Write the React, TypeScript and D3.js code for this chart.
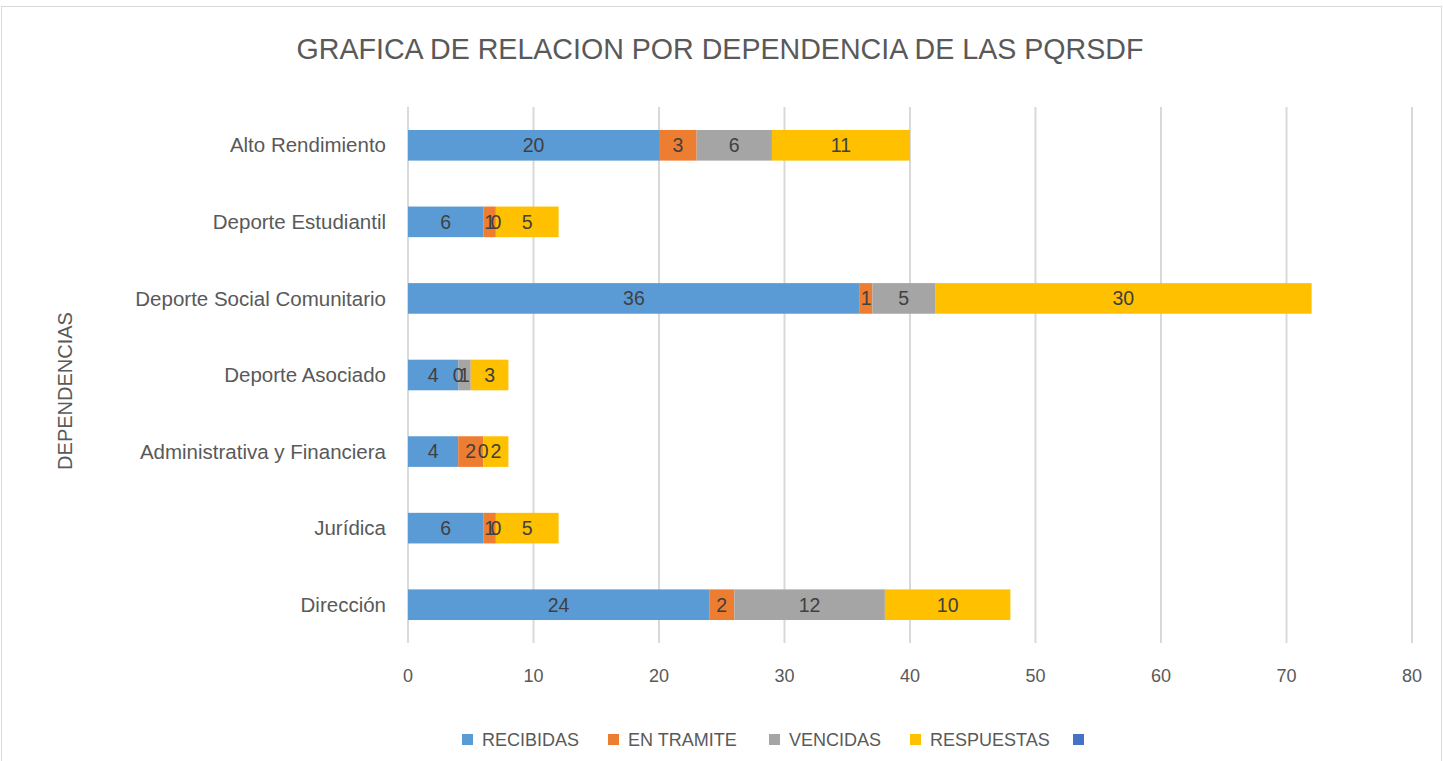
import React from "react";
import * as d3 from "d3";

const categories = [
  "Alto Rendimiento",
  "Deporte Estudiantil",
  "Deporte Social Comunitario",
  "Deporte Asociado",
  "Administrativa y Financiera",
  "Jurídica",
  "Dirección",
];
const recibidas = [20, 6, 36, 4, 4, 6, 24];
const enTramite = [3, 1, 1, 0, 2, 1, 2];
const vencidas = [6, 0, 5, 1, 0, 0, 12];
const respuestas = [11, 5, 30, 3, 2, 5, 10];
const seriesNames = ["RECIBIDAS", "EN TRAMITE", "VENCIDAS", "RESPUESTAS", ""];
const xTicks = [0, 10, 20, 30, 40, 50, 60, 70, 80];

const COLORS = ["#5B9BD5", "#ED7D31", "#A5A5A5", "#FFC000", "#4472C4"];
const FONT = "'Liberation Sans', Arial, sans-serif";
const TEXT = "#595959";

const W = 1443,
  H = 761;
const margin = { top: 107, right: 31, bottom: 118, left: 408 };

export default function App() {
  const ref = React.useRef<SVGSVGElement>(null);

  React.useEffect(() => {
    const svg = d3.select(ref.current);
    svg.selectAll("*").remove();

    const values = [recibidas, enTramite, vencidas, respuestas];
    const rows = categories.map((c, i) => {
      const r: any = { cat: c };
      values.forEach((v, k) => (r["s" + k] = v[i]));
      return r;
    });
    const stack = d3.stack().keys(["s0", "s1", "s2", "s3"])(rows);

    const x = d3
      .scaleLinear()
      .domain([0, 80])
      .range([margin.left, W - margin.right]);
    const y = d3
      .scaleBand()
      .domain(categories)
      .range([margin.top, H - margin.bottom])
      .paddingInner(0.6)
      .paddingOuter(0.3);

    // border
    svg
      .append("rect")
      .attr("x", 1.5)
      .attr("y", 6.5)
      .attr("width", W - 3)
      .attr("height", H + 20)
      .attr("fill", "#fff")
      .attr("stroke", "#D9D9D9");

    // title
    svg
      .append("text")
      .attr("x", 720)
      .attr("y", 59)
      .attr("text-anchor", "middle")
      .attr("font-family", FONT)
      .attr("font-size", 28.6)
      .attr("fill", TEXT)
      .text("GRAFICA DE RELACION POR DEPENDENCIA DE LAS PQRSDF");

    // gridlines
    svg
      .append("g")
      .selectAll("line")
      .data(xTicks)
      .join("line")
      .attr("x1", (d) => x(d))
      .attr("x2", (d) => x(d))
      .attr("y1", margin.top)
      .attr("y2", H - margin.bottom)
      .attr("stroke", "#D9D9D9")
      .attr("stroke-width", 2);

    // x tick labels
    svg
      .append("g")
      .selectAll("text")
      .data(xTicks)
      .join("text")
      .attr("x", (d) => x(d))
      .attr("y", 682)
      .attr("text-anchor", "middle")
      .attr("font-family", FONT)
      .attr("font-size", 18)
      .attr("fill", TEXT)
      .text((d) => d);

    // category labels
    svg
      .append("g")
      .selectAll("text")
      .data(categories)
      .join("text")
      .attr("x", 386)
      .attr("y", (d) => y(d)! + y.bandwidth() / 2)
      .attr("dy", "0.35em")
      .attr("text-anchor", "end")
      .attr("font-family", FONT)
      .attr("font-size", 20.5)
      .attr("fill", TEXT)
      .text((d) => d);

    // axis title
    svg
      .append("text")
      .attr("transform", `translate(72,${391}) rotate(-90)`)
      .attr("text-anchor", "middle")
      .attr("font-family", FONT)
      .attr("font-size", 20)
      .attr("fill", TEXT)
      .text("DEPENDENCIAS");

    // bars
    svg
      .append("g")
      .selectAll("g")
      .data(stack)
      .join("g")
      .attr("fill", (_, i) => COLORS[i])
      .selectAll("rect")
      .data((d) => d)
      .join("rect")
      .attr("x", (d) => x(d[0]))
      .attr("width", (d) => x(d[1]) - x(d[0]))
      .attr("y", (d: any) => y(d.data.cat)!)
      .attr("height", y.bandwidth());

    // data labels, drawn above all bars
    svg
      .append("g")
      .selectAll("g")
      .data(stack)
      .join("g")
      .selectAll("text")
      .data((d) => d)
      .join("text")
      .attr("x", (d) => x((d[0] + d[1]) / 2))
      .attr("y", (d: any) => y(d.data.cat)! + y.bandwidth() / 2)
      .attr("dy", "0.35em")
      .attr("text-anchor", "middle")
      .attr("font-family", FONT)
      .attr("font-size", 19.5)
      .attr("fill", "#404040")
      .text((d) => d[1] - d[0]);

    // legend
    const legendX = [462, 608, 769, 910, 1073];
    const legend = svg
      .append("g")
      .selectAll("g")
      .data(seriesNames)
      .join("g")
      .attr("transform", (_, i) => `translate(${legendX[i]},740)`);
    legend
      .append("rect")
      .attr("x", 0)
      .attr("y", -6)
      .attr("width", 11)
      .attr("height", 11)
      .attr("fill", (_, i) => COLORS[i]);
    legend
      .append("text")
      .attr("x", 20)
      .attr("dy", "0.35em")
      .attr("font-family", FONT)
      .attr("font-size", 18)
      .attr("fill", TEXT)
      .text((d) => d);
  }, []);

  return (
    <svg
      ref={ref}
      width={W}
      height={H}
      style={{ position: "absolute", left: 0, top: 0 }}
    />
  );
}
